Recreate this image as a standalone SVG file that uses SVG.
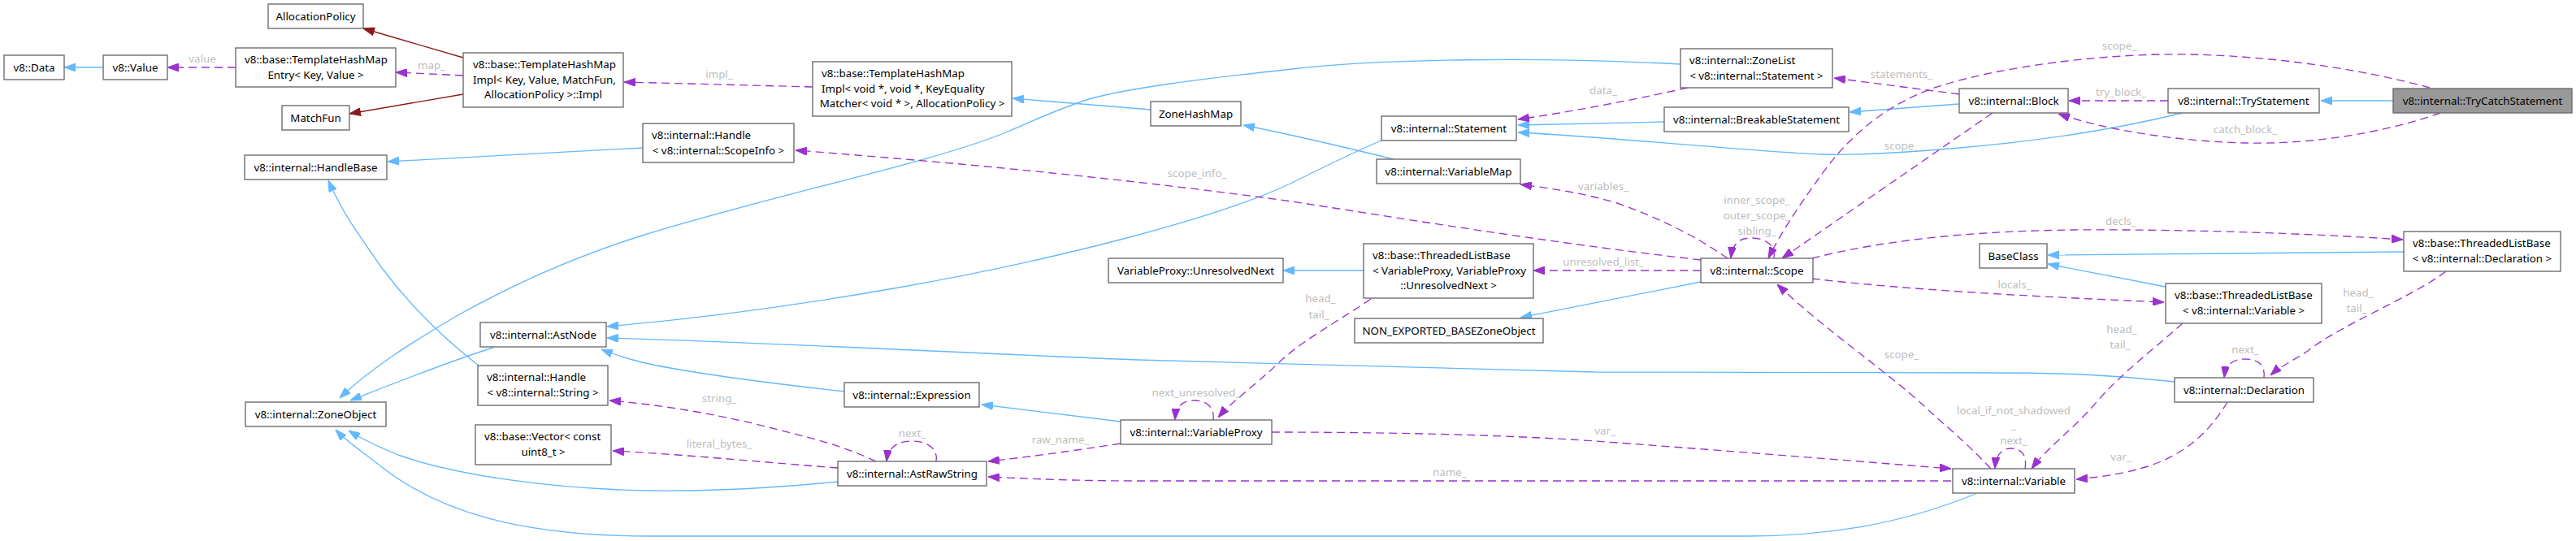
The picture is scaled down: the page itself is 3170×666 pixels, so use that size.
<svg xmlns="http://www.w3.org/2000/svg" width="3170" height="666" viewBox="0 0 3170 666">
<style>
.node rect{fill:#fff;stroke:#666;stroke-width:1.33}
.node.hl rect{fill:#999}
text{font-family:"Noto Sans","DejaVu Sans",sans-serif;font-size:13.33px}
.node text{fill:#000}
.m{text-anchor:middle}
.lbl{fill:#bdbdbd;text-anchor:middle}
.e{fill:none;stroke-width:1.33}
.inh{stroke:#63b8ff;marker-end:url(#ab)}
.use{stroke:#9a32cd;stroke-dasharray:10,6;marker-end:url(#ap)}
.tpl{stroke:#8b1a1a;marker-end:url(#ar)}
</style>
<defs>
<marker id="ab" viewBox="0 0 14 10" refX="14" refY="5" markerWidth="14" markerHeight="10" markerUnits="userSpaceOnUse" orient="auto"><path d="M0,0L14,5L0,10z" fill="#63b8ff" stroke="#63b8ff"/></marker>
<marker id="ap" viewBox="0 0 14 10" refX="14" refY="5" markerWidth="14" markerHeight="10" markerUnits="userSpaceOnUse" orient="auto"><path d="M0,0L14,5L0,10z" fill="#9a32cd" stroke="#9a32cd"/></marker>
<marker id="ar" viewBox="0 0 14 10" refX="14" refY="5" markerWidth="14" markerHeight="10" markerUnits="userSpaceOnUse" orient="auto"><path d="M0,0L14,5L0,10z" fill="#8b1a1a" stroke="#8b1a1a"/></marker>
</defs>
<g id="connectors">
<path class="e inh" d="M127,83L79,83"/>
<path class="e inh" d="M1416,135L1246,121"/>
<path class="e inh" d="M1715,196C1650,180 1590,166 1530,154"/>
<path class="e inh" d="M791,182C700,187 560,194 477,199"/>
<path class="e inh" d="M589,450C540,412 500,370 470,330C450,300 425,270 404,222"/>
<path class="e inh" d="M2068,79C1900,70 1700,72 1590,85C1480,97 1390,108 1340,122C1300,135 1280,145 1240,162C1150,200 950,240 790,290C720,312 640,345 560,390C510,420 460,450 418,490"/>
<path class="e inh" d="M607,428C560,442 490,470 431,493"/>
<path class="e inh" d="M1702,172C1660,190 1630,205 1590,225C1500,268 1300,320 1100,355C980,376 860,392 747,402"/>
<path class="e inh" d="M2676,470C2600,462 2550,459 2450,459L1963,458C1800,455 1600,450 1400,443C1200,435 950,422 747,416"/>
<path class="e inh" d="M1039,482C950,472 850,460 790,446C770,441 755,436 740,430"/>
<path class="e inh" d="M1379,519L1208,498"/>
<path class="e inh" d="M1678,333L1579,333"/>
<path class="e inh" d="M2093,347C2030,360 1950,375 1871,391"/>
<path class="e inh" d="M1031,593C950,601 880,605 800,604C680,602 560,585 490,560C465,550 445,540 429,530"/>
<path class="e inh" d="M2431,608C2340,645 2250,660 2150,660L800,660C640,660 540,630 470,575C445,555 428,545 413,529"/>
<path class="e inh" d="M2048,150L1868,154"/>
<path class="e inh" d="M2411,128L2276,138"/>
<path class="e inh" d="M2686,139C2600,160 2500,175 2400,183C2330,189 2280,191 2240,190C2150,186 2000,170 1868,163"/>
<path class="e inh" d="M2945,124L2856,124"/>
<path class="e inh" d="M2958,310L2520,314"/>
<path class="e inh" d="M2665,353L2520,325"/>
<path class="e tpl" d="M570,71L447,35"/>
<path class="e tpl" d="M570,116L430,140"/>
<path class="e use" d="M290,83L206,83"/>
<path class="e use" d="M570,93L487,89"/>
<path class="e use" d="M1000,107L768,101"/>
<path class="e use" d="M2093,320C1900,298 1700,265 1590,248C1400,222 1200,202 979,185"/>
<path class="e use" d="M2077,108C2000,125 1930,138 1868,147"/>
<path class="e use" d="M2411,116L2257,96"/>
<path class="e use" d="M2126,318C2100,300 2060,275 1990,250C1950,238 1910,232 1871,227"/>
<path class="e use" d="M2183,318C2186,300 2170,293 2155,293C2140,293 2132,300 2130,318"/>
<path class="e use" d="M2093,333L1887,333"/>
<path class="e use" d="M1687,368C1640,400 1600,420 1570,450C1540,478 1515,495 1499,514"/>
<path class="e use" d="M1493,517C1495,500 1483,493 1470,493C1455,493 1447,500 1446,517"/>
<path class="e use" d="M1379,546C1320,555 1270,562 1216,568"/>
<path class="e use" d="M1152,568C1155,550 1138,543 1122,543C1105,543 1093,550 1091,568"/>
<path class="e use" d="M1078,568C1030,545 980,535 930,522C870,508 810,498 750,493"/>
<path class="e use" d="M1031,576C950,570 850,560 754,555"/>
<path class="e use" d="M1565,532C1700,532 1850,535 1963,543C2100,553 2250,565 2401,577"/>
<path class="e use" d="M2401,592L1400,592C1320,592 1260,589 1216,587"/>
<path class="e use" d="M2450,577C2420,545 2395,525 2370,502C2320,455 2250,410 2187,350"/>
<path class="e use" d="M2492,577C2495,560 2487,552 2475,552C2463,552 2456,560 2455,577"/>
<path class="e use" d="M2686,398C2650,430 2610,460 2580,495C2550,530 2520,550 2500,577"/>
<path class="e use" d="M2741,495C2720,530 2690,560 2640,575C2610,584 2580,588 2555,590"/>
<path class="e use" d="M2786,465C2788,448 2777,442 2763,442C2748,442 2739,448 2737,465"/>
<path class="e use" d="M3010,334C2970,365 2880,400 2840,432C2820,445 2805,452 2794,462"/>
<path class="e use" d="M2230,318C2300,300 2400,285 2550,283C2700,282 2850,288 2957,295"/>
<path class="e use" d="M2230,343C2350,357 2500,365 2663,372"/>
<path class="e use" d="M2668,124L2546,124"/>
<path class="e use" d="M3003,139C2930,165 2840,178 2763,176C2680,174 2590,160 2533,140"/>
<path class="e use" d="M2990,108C2880,78 2750,65 2656,67C2540,70 2430,90 2375,110C2310,135 2270,175 2240,217C2220,245 2195,280 2176,318"/>
<path class="e use" d="M2452,139L2193,318"/>
<text class="lbl" x="249" y="76.5">value</text>
<text class="lbl" x="531" y="84.5">map_</text>
<text class="lbl" x="885" y="95.5">impl_</text>
<text class="lbl" x="1473" y="217.5">scope_info_</text>
<text class="lbl" x="1973" y="115.5">data_</text>
<text class="lbl" x="2340" y="96">statements_</text>
<text class="lbl" x="2340" y="183.5">scope_</text>
<text class="lbl" x="1973" y="233.5">variables_</text>
<text class="lbl" x="2162" y="250.5">inner_scope_</text>
<text class="lbl" x="2162" y="269.5">outer_scope_</text>
<text class="lbl" x="2162" y="288.5">sibling_</text>
<text class="lbl" x="1973" y="327">unresolved_list_</text>
<text class="lbl" x="1625" y="372">head_</text>
<text class="lbl" x="1623" y="391.5">tail_</text>
<text class="lbl" x="1472" y="488">next_unresolved_</text>
<text class="lbl" x="1305" y="545.5">raw_name_</text>
<text class="lbl" x="1122.5" y="537.5">next_</text>
<text class="lbl" x="885" y="494.5">string_</text>
<text class="lbl" x="885" y="551">literal_bytes_</text>
<text class="lbl" x="1975" y="534.5">var_</text>
<text class="lbl" x="1784" y="585.5">name_</text>
<text class="lbl" x="2340" y="441">scope_</text>
<text class="lbl" x="2478" y="509.5">local_if_not_shadowed</text>
<text class="lbl" x="2478" y="528.3">_</text>
<text class="lbl" x="2478" y="547.2">next_</text>
<text class="lbl" x="2611" y="409.5">head_</text>
<text class="lbl" x="2609" y="428.8">tail_</text>
<text class="lbl" x="2610" y="566.5">var_</text>
<text class="lbl" x="2763" y="435">next_</text>
<text class="lbl" x="2902" y="364.5">head_</text>
<text class="lbl" x="2900" y="383.5">tail_</text>
<text class="lbl" x="2610" y="277">decls_</text>
<text class="lbl" x="2479" y="354.5">locals_</text>
<text class="lbl" x="2610" y="117.5">try_block_</text>
<text class="lbl" x="2763" y="163.5">catch_block_</text>
<text class="lbl" x="2608" y="61">scope_</text>
</g>
<g id="n_data" class="node"><rect x="5" y="68" width="74" height="30"/><text class="m" x="42" y="87.5">v8::Data</text></g>
<g id="n_value" class="node"><rect x="127" y="68" width="79" height="30"/><text class="m" x="166.5" y="87.5">v8::Value</text></g>
<g id="n_entry" class="node"><rect x="290" y="59" width="197" height="48"/><text x="301" y="78">v8::base::TemplateHashMap</text><text class="m" x="388.5" y="96.7">Entry&lt; Key, Value &gt;</text></g>
<g id="n_alloc" class="node"><rect x="330" y="5" width="117" height="30"/><text class="m" x="388.5" y="24.5">AllocationPolicy</text></g>
<g id="n_matchfun" class="node"><rect x="347" y="130" width="83" height="30"/><text class="m" x="388.5" y="149.5">MatchFun</text></g>
<g id="n_impl" class="node"><rect x="570" y="65" width="197" height="67"/><text x="582" y="84">v8::base::TemplateHashMap</text><text x="582" y="102.7">Impl&lt; Key, Value, MatchFun,</text><text class="m" x="668.5" y="121.4">AllocationPolicy &gt;::Impl</text></g>
<g id="n_handlebase" class="node"><rect x="301" y="191" width="175" height="30"/><text class="m" x="388.5" y="210.5">v8::internal::HandleBase</text></g>
<g id="n_zoneobject" class="node"><rect x="302" y="495" width="173" height="30"/><text class="m" x="388.5" y="514.5">v8::internal::ZoneObject</text></g>
<g id="n_astnode" class="node"><rect x="591" y="397" width="155" height="30"/><text class="m" x="668.5" y="416.5">v8::internal::AstNode</text></g>
<g id="n_handlestring" class="node"><rect x="588" y="450" width="160" height="49"/><text x="599" y="469">v8::internal::Handle</text><text class="m" x="668" y="487.7">&lt; v8::internal::String &gt;</text></g>
<g id="n_vector" class="node"><rect x="585" y="523" width="167" height="49"/><text x="596" y="542">v8::base::Vector&lt; const</text><text class="m" x="668.5" y="560.7">uint8_t &gt;</text></g>
<g id="n_hashmapvoid" class="node"><rect x="1000" y="76" width="245" height="67"/><text x="1011" y="95">v8::base::TemplateHashMap</text><text x="1011" y="113.7">Impl&lt; void *, void *, KeyEquality</text><text class="m" x="1122.5" y="132.4">Matcher&lt; void * &gt;, AllocationPolicy &gt;</text></g>
<g id="n_handlescope" class="node"><rect x="791" y="152" width="186" height="48"/><text x="802" y="171">v8::internal::Handle</text><text class="m" x="884" y="189.7">&lt; v8::internal::ScopeInfo &gt;</text></g>
<g id="n_zonehashmap" class="node"><rect x="1416" y="125" width="111" height="30"/><text class="m" x="1471.5" y="144.5">ZoneHashMap</text></g>
<g id="n_unresnext" class="node"><rect x="1364" y="318" width="215" height="30"/><text class="m" x="1471.5" y="337.5">VariableProxy::UnresolvedNext</text></g>
<g id="n_expression" class="node"><rect x="1039" y="471" width="166" height="30"/><text class="m" x="1122" y="490.5">v8::internal::Expression</text></g>
<g id="n_varproxy" class="node"><rect x="1379" y="517" width="186" height="30"/><text class="m" x="1472" y="536.5">v8::internal::VariableProxy</text></g>
<g id="n_astrawstring" class="node"><rect x="1031" y="568" width="183" height="30"/><text class="m" x="1122.5" y="587.5">v8::internal::AstRawString</text></g>
<g id="n_zonelist" class="node"><rect x="2068" y="60" width="187" height="48"/><text x="2079" y="79">v8::internal::ZoneList</text><text class="m" x="2161.5" y="97.7">&lt; v8::internal::Statement &gt;</text></g>
<g id="n_breakable" class="node"><rect x="2048" y="132" width="227" height="30"/><text class="m" x="2161.5" y="151.5">v8::internal::BreakableStatement</text></g>
<g id="n_statement" class="node"><rect x="1700" y="143" width="166" height="30"/><text class="m" x="1783" y="162.5">v8::internal::Statement</text></g>
<g id="n_variablemap" class="node"><rect x="1694" y="196" width="177" height="30"/><text class="m" x="1782.5" y="215.5">v8::internal::VariableMap</text></g>
<g id="n_tlbproxy" class="node"><rect x="1678" y="300" width="209" height="67"/><text x="1689" y="319">v8::base::ThreadedListBase</text><text x="1689" y="337.7">&lt; VariableProxy, VariableProxy</text><text class="m" x="1782.5" y="356.4">::UnresolvedNext &gt;</text></g>
<g id="n_scope" class="node"><rect x="2093" y="318" width="138" height="30"/><text class="m" x="2162" y="337.5">v8::internal::Scope</text></g>
<g id="n_nonexported" class="node"><rect x="1667" y="392" width="232" height="30"/><text class="m" x="1783" y="411.5">NON_EXPORTED_BASEZoneObject</text></g>
<g id="n_block" class="node"><rect x="2411" y="109" width="134" height="30"/><text class="m" x="2478" y="128.5">v8::internal::Block</text></g>
<g id="n_trystatement" class="node"><rect x="2668" y="109" width="186" height="30"/><text class="m" x="2761" y="128.5">v8::internal::TryStatement</text></g>
<g id="n_trycatch" class="node hl"><rect x="2945" y="109" width="220" height="30"/><text class="m" x="3055" y="128.5">v8::internal::TryCatchStatement</text></g>
<g id="n_tlbdecl" class="node"><rect x="2958" y="285" width="193" height="49"/><text x="2969" y="304">v8::base::ThreadedListBase</text><text class="m" x="3054.5" y="322.7">&lt; v8::internal::Declaration &gt;</text></g>
<g id="n_baseclass" class="node"><rect x="2436" y="300" width="83" height="30"/><text class="m" x="2477.5" y="319.5">BaseClass</text></g>
<g id="n_tlbvar" class="node"><rect x="2665" y="349" width="192" height="49"/><text x="2676" y="368">v8::base::ThreadedListBase</text><text class="m" x="2761" y="386.7">&lt; v8::internal::Variable &gt;</text></g>
<g id="n_declaration" class="node"><rect x="2676" y="465" width="171" height="30"/><text class="m" x="2761.5" y="484.5">v8::internal::Declaration</text></g>
<g id="n_variable" class="node"><rect x="2403" y="577" width="150" height="30"/><text class="m" x="2478" y="596.5">v8::internal::Variable</text></g>
</svg>
